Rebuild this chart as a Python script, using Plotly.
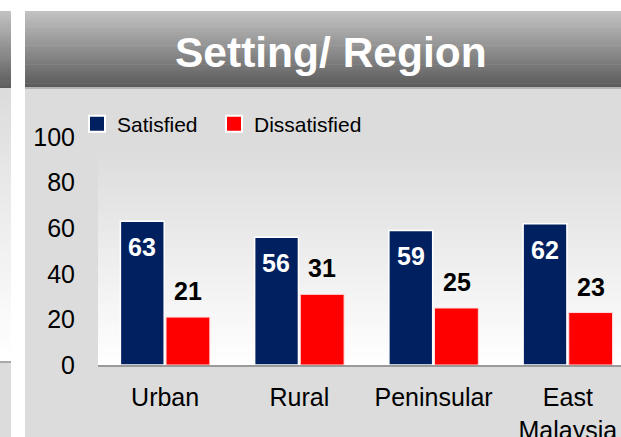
import plotly.graph_objects as go

# ---- data ----
categories = ["Urban", "Rural", "Peninsular", "East<br>Malaysia"]
satisfied = [63, 56, 59, 62]
dissatisfied = [21, 31, 25, 23]
series_names = ["Satisfied", "Dissatisfied"]
y_ticks = [0, 20, 40, 60, 80, 100]
title_text = "Setting/ Region"

# ---- layout geometry (pixels) ----
W, H = 621, 437
L, R, T, B = 98, 0, 137, 72
PW = W - L - R
PH = H - T - B

NAVY = "#002060"
RED = "#ff0000"
FONT = "Liberation Sans, Arial, sans-serif"


def px_x(x):
    return (x - L) / PW


def px_y(y):
    return (H - B - y) / PH


def hex2rgb(h):
    h = h.lstrip("#")
    return tuple(int(h[i:i + 2], 16) for i in (0, 2, 4))


shapes = []


def rect(x0, x1, y0, y1, color):
    shapes.append(dict(type="rect", xref="paper", yref="paper",
                       x0=px_x(x0), x1=px_x(x1), y0=px_y(y1), y1=px_y(y0),
                       fillcolor=color, line=dict(width=0), layer="below"))


def grad(x0, x1, y0, y1, c0, c1, n=40):
    a, b = hex2rgb(c0), hex2rgb(c1)
    for i in range(n):
        t = i / (n - 1)
        col = "rgb(%d,%d,%d)" % tuple(round(a[k] + (b[k] - a[k]) * t) for k in range(3))
        ya = y0 + (y1 - y0) * i / n
        yb = y0 + (y1 - y0) * (i + 1) / n + 0.6
        rect(x0, x1, ya, min(yb, y1), col)


# left (cut-off) panel
grad(0, 11, 11, 88, "#c2c2c2", "#5c5c5c")
grad(0, 11, 88, 361, "#dcdcdc", "#ffffff")
rect(0, 11, 361, 363, "#a8a8a8")
rect(0, 11, 363, 437, "#dcdcdc")

# main panel
rect(25, 621, 88, 437, "#dcdcdc")
grad(25, 621, 11, 87, "#c2c2c2", "#5c5c5c")
rect(25, 621, 87, 89, "#b4b4b4")
# plot area gradient
grad(98, 621, 149, 365, "#dcdcdc", "#ffffff", n=60)

fig = go.Figure()

fig.add_trace(go.Bar(x=categories, y=satisfied, name=series_names[0],
                     marker=dict(color=NAVY, line=dict(color="white", width=1.5)),
                     showlegend=False, hoverinfo="y"))
fig.add_trace(go.Bar(x=categories, y=dissatisfied, name=series_names[1],
                     marker=dict(color=RED, line=dict(color="#ffdede", width=1)),
                     showlegend=False, hoverinfo="y"))

# legend entries (one legend box per entry to match the spacing)
for nm, col, lg in zip(series_names, [NAVY, RED], ["legend", "legend2"]):
    fig.add_trace(go.Scatter(x=[None], y=[None], mode="markers", name=nm,
                             legend=lg,
                             marker=dict(symbol="square", size=20, color=col,
                                         line=dict(color="white", width=2))))

annotations = []
for i in range(len(categories)):
    annotations.append(dict(x=i, y=satisfied[i], xref="x", yref="y",
                            text="<b>%d</b>" % satisfied[i], showarrow=False,
                            xshift=-23, yshift=-26, yanchor="middle",
                            font=dict(family=FONT, size=25, color="white")))
    annotations.append(dict(x=i, y=dissatisfied[i], xref="x", yref="y",
                            text="<b>%d</b>" % dissatisfied[i], showarrow=False,
                            xshift=23, yshift=26, yanchor="middle",
                            font=dict(family=FONT, size=25, color="black")))

annotations.append(dict(x=px_x(331), y=px_y(52), xref="paper", yref="paper",
                        text="<b>%s</b>" % title_text, showarrow=False,
                        xanchor="center", yanchor="middle",
                        font=dict(family=FONT, size=42.5, color="white")))

legend_common = dict(orientation="h", xanchor="left", yanchor="middle",
                     bgcolor="rgba(0,0,0,0)",
                     font=dict(family=FONT, size=21, color="black"))

fig.update_layout(
    width=W, height=H, autosize=False,
    margin=dict(l=L, r=R, t=T, b=B, pad=0, autoexpand=False),
    paper_bgcolor="white",
    plot_bgcolor="rgba(0,0,0,0)",
    barmode="group",
    bargap=0.32,
    bargroupgap=0.04,
    font=dict(family=FONT, color="black"),
    shapes=shapes,
    annotations=annotations,
    showlegend=True,
    legend=dict(x=px_x(77), y=px_y(124), **legend_common),
    legend2=dict(x=px_x(214), y=px_y(124), **legend_common),
    xaxis=dict(type="category", range=[-0.5, (W - L) / (PW / 3.896) - 0.5],
               showgrid=False, zeroline=False, showline=True,
               linecolor="#9a9a9a", linewidth=2, ticks="", automargin=False,
               tickfont=dict(family=FONT, size=25, color="black"),
               ticklabelstandoff=9, fixedrange=True),
    yaxis=dict(range=[0, 100], tickvals=y_ticks, showgrid=False,
               zeroline=False, showline=False, ticks="", automargin=False,
               tickfont=dict(family=FONT, size=25, color="black"),
               ticklabelstandoff=22, fixedrange=True),
)

fig.write_html("out.html", config={"displayModeBar": False},
               post_script="document.body.style.margin='0';"
                           "document.body.style.overflow='hidden';")
